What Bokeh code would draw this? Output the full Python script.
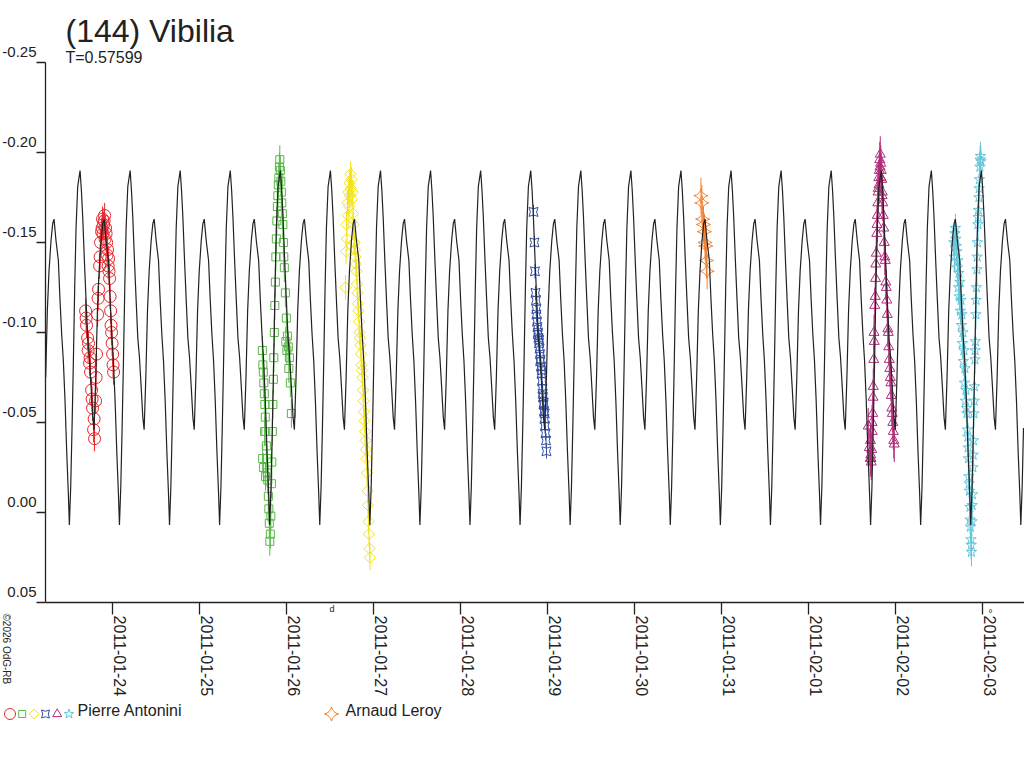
import math
import pandas as pd
from bokeh.plotting import figure
from bokeh.models import Range1d, FixedTicker, LinearAxis, Label
from bokeh.embed import file_html
from bokeh.resources import INLINE

# ---------------- data ----------------
TITLE = "(144) Vibilia"
SUBTITLE = "T=0.57599"
PERIOD = 0.57599          # days
BASE = "2011-01-24"       # day 0 of the time values below
EPOCH = 3.2405            # time (days after BASE) of a secondary minimum of the model

# one period of the model light curve
CURVE_PHASE = [0.0, 0.0333, 0.0667, 0.1, 0.14, 0.1733, 0.2, 0.24, 0.2867, 0.32,
               0.3533, 0.3867, 0.42, 0.4533, 0.4867, 0.5067, 0.5333, 0.56, 0.5867,
               0.6133, 0.64, 0.6733, 0.72, 0.7467, 0.7733, 0.8067, 0.84, 0.8733,
               0.9067, 0.94, 0.9733]
CURVE_MAG = [-0.046, -0.075, -0.112, -0.134, -0.151, -0.1605, -0.163, -0.151, -0.140,
             -0.118, -0.099, -0.084, -0.062, -0.034, -0.010, 0.007, -0.014, -0.047,
             -0.084, -0.125, -0.158, -0.181, -0.190, -0.179, -0.164, -0.140, -0.118,
             -0.097, -0.086, -0.070, -0.053]

XTICK_LABELS = ["2011-01-24", "2011-01-25", "2011-01-26", "2011-01-27", "2011-01-28",
                "2011-01-29", "2011-01-30", "2011-01-31", "2011-02-01", "2011-02-02",
                "2011-02-03"]
YTICKS = [-0.25, -0.20, -0.15, -0.10, -0.05, 0.00, 0.05]
YTICK_LABELS = ["-0.25", "-0.20", "-0.15", "-0.10", "-0.05", "0.00", "0.05"]
X_START, X_END = -0.7735, 10.487   # days after BASE covered by the axis
Y_TOP, Y_BOTTOM = -0.25, 0.05

OBSERVERS = ["Pierre Antonini", "Arnaud Leroy"]
COPYRIGHT = "©2026 OdG-RB"

# session 1 (Pierre Antonini, red circles)
red_t = [-0.313, -0.307, -0.302, -0.290, -0.284, -0.279, -0.267, -0.261, -0.256, -0.244,
         -0.238, -0.233, -0.221, -0.215, -0.210, -0.198, -0.192, -0.187, -0.175, -0.169,
         -0.164, -0.152, -0.146, -0.141, -0.129, -0.123, -0.118, -0.112, -0.106, -0.100,
         -0.094, -0.089, -0.083, -0.077, -0.071, -0.066, -0.060, -0.054, -0.048, -0.043,
         -0.037, -0.031, -0.025, -0.020, -0.014, -0.008, -0.002, 0.003, 0.009]
red_m = [-0.112, -0.108, -0.104, -0.097, -0.090, -0.094, -0.083, -0.086, -0.078, -0.068,
         -0.063, -0.058, -0.046, -0.052, -0.041, -0.062, -0.075, -0.088, -0.110, -0.119,
         -0.124, -0.137, -0.142, -0.150, -0.156, -0.158, -0.163, -0.155, -0.160, -0.162,
         -0.165, -0.152, -0.158, -0.155, -0.150, -0.143, -0.146, -0.137, -0.141, -0.134,
         -0.130, -0.120, -0.112, -0.104, -0.100, -0.094, -0.088, -0.082, -0.078]
red_err = 0.007

# session 2 (Pierre Antonini, green squares)
green_t = [1.720, 1.726, 1.731, 1.737, 1.743, 1.749, 1.754, 1.760, 1.766, 1.772,
           1.777, 1.783, 1.789, 1.795, 1.800, 1.806, 1.812, 1.818, 1.824, 1.829,
           1.835, 1.841, 1.847, 1.852, 1.858, 1.864, 1.870, 1.875, 1.881, 1.887,
           1.893, 1.898, 1.904, 1.910, 1.916, 1.921, 1.927, 1.933, 1.939, 1.944,
           1.950, 1.956, 1.962, 1.967, 1.973, 1.985, 1.996, 2.008, 2.019, 2.031,
           2.042, 2.054, 1.724, 1.735, 1.746, 1.757, 1.990, 2.002, 2.025]
green_m = [-0.090, -0.082, -0.078, -0.072, -0.066, -0.060, -0.053, -0.045, -0.037, -0.030,
           -0.022, -0.018, -0.009, -0.002, 0.006, 0.016, 0.012, 0.002, -0.016, -0.028,
           -0.045, -0.060, -0.074, -0.086, -0.100, -0.115, -0.128, -0.142, -0.152, -0.162,
           -0.170, -0.176, -0.182, -0.186, -0.192, -0.196, -0.190, -0.184, -0.178, -0.172,
           -0.166, -0.160, -0.150, -0.142, -0.136, -0.122, -0.108, -0.098, -0.092, -0.086,
           -0.072, -0.055, -0.030, -0.025, -0.045, -0.020, -0.095, -0.090, -0.080]
green_err = 0.008

# session 3 (Pierre Antonini, yellow diamonds)
yellow_t = [2.677, 2.683, 2.688, 2.694, 2.700, 2.705, 2.711, 2.717, 2.723, 2.728,
            2.734, 2.740, 2.746, 2.751, 2.757, 2.763, 2.769, 2.774, 2.780, 2.786,
            2.792, 2.797, 2.803, 2.809, 2.815, 2.820, 2.826, 2.832, 2.838, 2.843,
            2.849, 2.855, 2.861, 2.866, 2.872, 2.878, 2.884, 2.889, 2.895, 2.901,
            2.907, 2.912, 2.918, 2.924, 2.930, 2.935, 2.941, 2.947, 2.953, 2.958]
yellow_m = [-0.125, -0.145, -0.160, -0.152, -0.172, -0.165, -0.178, -0.170, -0.183, -0.176,
            -0.188, -0.180, -0.185, -0.174, -0.178, -0.166, -0.160, -0.150, -0.150, -0.146,
            -0.142, -0.138, -0.134, -0.127, -0.122, -0.116, -0.112, -0.106, -0.100, -0.097,
            -0.093, -0.088, -0.082, -0.079, -0.075, -0.068, -0.062, -0.056, -0.051, -0.045,
            -0.040, -0.035, -0.030, -0.022, -0.012, -0.004, 0.005, 0.012, 0.020, 0.025]
yellow_err = 0.007

# session 4 (Pierre Antonini, blue pins)
blue_t = [4.839, 4.850, 4.856, 4.862, 4.868, 4.873, 4.879, 4.885, 4.891, 4.896,
          4.902, 4.908, 4.914, 4.919, 4.925, 4.931, 4.937, 4.942, 4.948, 4.954,
          4.960, 4.965, 4.971, 4.977, 4.983, 4.988, 4.871, 4.888, 4.905, 4.916,
          4.934, 4.945, 4.957, 4.968]
blue_m = [-0.167, -0.150, -0.134, -0.122, -0.118, -0.110, -0.106, -0.103, -0.100, -0.097,
          -0.094, -0.091, -0.088, -0.085, -0.081, -0.077, -0.073, -0.069, -0.064, -0.060,
          -0.056, -0.052, -0.048, -0.044, -0.040, -0.034, -0.113, -0.099, -0.096, -0.084,
          -0.079, -0.066, -0.061, -0.055]
blue_err = 0.004

# session 5 (Pierre Antonini, magenta triangles)
magenta_t = [8.6893, 8.7008, 8.7124, 8.7182, 8.7240, 8.7297, 8.7355, 8.7412, 8.7470, 8.7527,
             8.7585, 8.7642, 8.7700, 8.7758, 8.7815, 8.7873, 8.7930, 8.7988, 8.8046, 8.8103,
             8.8161, 8.8218, 8.8276, 8.8334, 8.8391, 8.8449, 8.8506, 8.8564, 8.8622, 8.8737,
             8.8852, 8.8967, 8.9082, 8.9198, 8.9313, 8.9428, 8.9543, 8.9658, 8.9774, 8.9889,
             8.7150, 8.7210, 8.7330, 8.7440, 8.7560, 8.7730, 8.7900, 8.8020, 8.8130, 8.8250,
             8.8360, 8.8480, 8.8680, 8.8800, 8.8910, 8.9030, 8.9140, 8.9250, 8.9370, 8.9490,
             8.9600, 8.9720, 8.9830]
magenta_m = [-0.048, -0.036, -0.030, -0.032, -0.028, -0.035, -0.045, -0.055, -0.070, -0.085,
             -0.095, -0.115, -0.120, -0.138, -0.144, -0.155, -0.165, -0.172, -0.180, -0.186,
             -0.190, -0.196, -0.199, -0.194, -0.190, -0.185, -0.178, -0.172, -0.165, -0.150,
             -0.140, -0.125, -0.110, -0.100, -0.085, -0.075, -0.065, -0.055, -0.045, -0.038,
             -0.040, -0.030, -0.050, -0.064, -0.100, -0.130, -0.160, -0.178, -0.182, -0.192,
             -0.186, -0.176, -0.158, -0.142, -0.128, -0.118, -0.102, -0.092, -0.080, -0.072,
             -0.058, -0.050, -0.040]
magenta_err = 0.010

# session 6 (Pierre Antonini, cyan stars)
cyan_t = [9.6743, 9.6858, 9.6974, 9.7089, 9.7204, 9.7319, 9.7434, 9.7550, 9.7665, 9.7780,
          9.7895, 9.8010, 9.8126, 9.8241, 9.8356, 9.8414, 9.8471, 9.8529, 9.8586, 9.8644,
          9.8702, 9.8759, 9.8817, 9.8874, 9.8932, 9.8990, 9.9047, 9.9105, 9.9162, 9.9220,
          9.9278, 9.9335, 9.9393, 9.9450, 9.9508, 9.9566, 9.9623, 9.9681, 9.9738, 9.9796,
          9.9854, 9.6800, 9.6920, 9.7030, 9.7150, 9.7260, 9.7380, 9.7500, 9.7610, 9.7720,
          9.7840, 9.7950, 9.8070, 9.8180, 9.8300, 9.8380, 9.8500, 9.8610, 9.8730, 9.8840,
          9.8960, 9.9080, 9.9190, 9.9300, 9.9420, 9.9540, 9.9650, 9.9770]
cyan_m = [-0.150, -0.155, -0.152, -0.145, -0.140, -0.133, -0.128, -0.118, -0.110, -0.100,
          -0.090, -0.080, -0.068, -0.055, -0.042, -0.030, -0.020, -0.012, -0.003, 0.008,
          0.015, 0.022, 0.005, -0.010, -0.025, -0.040, -0.055, -0.070, -0.085, -0.095,
          -0.110, -0.125, -0.135, -0.150, -0.160, -0.168, -0.175, -0.185, -0.192, -0.198,
          -0.195, -0.142, -0.158, -0.148, -0.136, -0.125, -0.120, -0.112, -0.104, -0.094,
          -0.084, -0.072, -0.062, -0.058, -0.046, -0.036, -0.016, 0.004, 0.018, -0.004,
          -0.032, -0.062, -0.090, -0.118, -0.142, -0.164, -0.180, -0.196]
cyan_err = 0.008

# session 7 (Arnaud Leroy, orange four-point stars)
orange_t = [6.765, 6.775, 6.785, 6.795, 6.805, 6.812, 6.820, 6.828, 6.836]
orange_m = [-0.176, -0.172, -0.163, -0.160, -0.156, -0.150, -0.148, -0.140, -0.134]
orange_err = 0.010

# ---------------- layout (pixels) ----------------
W, H = 1024, 760
PX_PER_DAY = 86.94
X0_PX = 112.3        # page x of BASE
PX_PER_MAG = 1800.0
Y0_PX = 512.0        # page y of magnitude 0

base = pd.Timestamp(BASE)


def day_to_ms(d):
    return (base + pd.Timedelta(days=float(d))).value / 1e6


def days_to_ms(ds):
    return [day_to_ms(d) for d in ds]


def px_to_day(px):
    return (px - X0_PX) / PX_PER_DAY


def py_to_mag(py):
    return (py - Y0_PX) / PX_PER_MAG


DARK = "#222222"
FONT = "Liberation Sans"
RED, GREEN, YELLOW, BLUE = "#e8262c", "#58b947", "#f2e41c", "#3350a6"
MAGENTA, CYAN, ORANGE = "#b02d7a", "#62c7da", "#f08232"

# marker styles: (marker, size, angle)
STYLES = {
    "red": ("circle", 12, 0.0),
    "green": ("square", 8, 0.0),
    "yellow": ("square", 8, math.pi / 4),
    "blue": ("square_pin", 9, 0.0),
    "magenta": ("triangle", 10, 0.0),
    "cyan": ("star", 11, 0.0),
    "orange": ("square_pin", 10, math.pi / 4),
}

# ---------------- figure: frame spans the whole canvas ----------------
xs0, xs1 = day_to_ms(px_to_day(0)), day_to_ms(px_to_day(W))
ys0, ys1 = py_to_mag(H), py_to_mag(0)
p = figure(width=W, height=H, output_backend="svg", toolbar_location=None,
           x_axis_type=None, y_axis_type=None,
           x_range=Range1d(xs0, xs1), y_range=Range1d(ys0, ys1),
           min_border_left=0, min_border_right=0, min_border_top=0,
           min_border_bottom=0)
p.outline_line_color = None
p.background_fill_color = "white"
p.border_fill_color = "white"

# label ranges shifted by a few pixels so that labels sit like in the reference
sx_ms = day_to_ms(7.5 / PX_PER_DAY) - day_to_ms(0)
dy = 11.0 / PX_PER_MAG
p.extra_x_ranges = {"xlab": Range1d(xs0 - sx_ms, xs1 - sx_ms)}
p.extra_y_ranges = {"ylab": Range1d(ys0 + dy, ys1 + dy)}

x_start_ms, x_end_ms = day_to_ms(X_START), day_to_ms(X_END)
xt = [day_to_ms((pd.Timestamp(s) - base).total_seconds() / 86400.0) for s in XTICK_LABELS]


def style_axis(ax):
    ax.minor_tick_out = 0
    ax.minor_tick_in = 0
    ax.minor_tick_line_color = None
    ax.major_tick_in = 0


# y axis: line + ticks
yax = LinearAxis(ticker=FixedTicker(ticks=YTICKS), fixed_location=x_start_ms,
                 bounds=(Y_TOP, Y_BOTTOM))
style_axis(yax)
yax.axis_line_color = DARK
yax.axis_line_width = 1.3
yax.major_tick_line_color = DARK
yax.major_tick_line_width = 1.3
yax.major_tick_out = 9
yax.major_label_text_font_size = "1px"
yax.major_label_text_color = None
p.add_layout(yax, "left")

# y axis: labels
yl = LinearAxis(y_range_name="ylab", ticker=FixedTicker(ticks=YTICKS),
                fixed_location=x_start_ms,
                major_label_overrides={v: s for v, s in zip(YTICKS, YTICK_LABELS)})
style_axis(yl)
yl.axis_line_color = None
yl.major_tick_line_color = None
yl.major_tick_out = 9
yl.major_label_standoff = 0
yl.major_label_text_font = FONT
yl.major_label_text_font_size = "15px"
yl.major_label_text_color = DARK
p.add_layout(yl, "left")

# x axis: line + ticks
xax = LinearAxis(ticker=FixedTicker(ticks=xt), fixed_location=Y_BOTTOM,
                 bounds=(x_start_ms, x_end_ms))
style_axis(xax)
xax.axis_line_color = DARK
xax.axis_line_width = 1.3
xax.major_tick_line_color = DARK
xax.major_tick_line_width = 1.3
xax.major_tick_out = 12
xax.major_label_text_font_size = "1px"
xax.major_label_text_color = None
p.add_layout(xax, "below")

# x axis: rotated date labels
xl = LinearAxis(x_range_name="xlab", ticker=FixedTicker(ticks=xt),
                fixed_location=Y_BOTTOM,
                major_label_overrides={v: s for v, s in zip(xt, XTICK_LABELS)})
style_axis(xl)
xl.axis_line_color = None
xl.major_tick_line_color = None
xl.major_tick_out = 12
xl.major_label_standoff = 1
xl.major_label_orientation = -math.pi / 2
xl.major_label_text_font = FONT
xl.major_label_text_font_size = "16px"
xl.major_label_text_color = DARK
p.add_layout(xl, "below")

# ---------------- data marks ----------------
sessions = [
    ("red", red_t, red_m, red_err, RED),
    ("green", green_t, green_m, green_err, GREEN),
    ("yellow", yellow_t, yellow_m, yellow_err, YELLOW),
    ("blue", blue_t, blue_m, blue_err, BLUE),
    ("orange", orange_t, orange_m, orange_err, ORANGE),
    ("magenta", magenta_t, magenta_m, magenta_err, MAGENTA),
    ("cyan", cyan_t, cyan_m, cyan_err, CYAN),
]
for key, t, m, e, col in sessions:
    xs = days_to_ms(t)
    p.segment(x0=xs, y0=[v - e for v in m], x1=xs, y1=[v + e for v in m],
              line_color=col, line_width=1)
    mk, sz, ang = STYLES[key]
    p.scatter(x=xs, y=m, marker=mk, size=sz, angle=ang, fill_color=None,
              line_color=col, line_width=1)

# model curve tiled over the axis span
curve_d, curve_m = [], []
for k in range(-8, 15):
    for ph, mg in zip(CURVE_PHASE, CURVE_MAG):
        d = EPOCH + (k + ph) * PERIOD
        if X_START <= d <= X_END:
            curve_d.append(d)
            curve_m.append(mg)
p.line(x=days_to_ms(curve_d), y=curve_m, line_color=DARK, line_width=1.2)


# ---------------- texts (page pixels; baseline given, corrected for Label offset) ------
def put(text, px, py, size, angle=0.0, align="left"):
    lift = 0.37 * size
    p.add_layout(Label(x=px, y=H - (py - lift), x_units="screen", y_units="screen",
                       text=text, angle=angle, text_align=align,
                       text_baseline="alphabetic", text_font=FONT,
                       text_font_size="%dpx" % size, text_color=DARK))


put(TITLE, 65, 42, 32)
put(SUBTITLE, 65, 63, 16)
put("d", 329, 612, 9)
put("°", 988, 617, 10)
# rotated copyright (anchor given directly in screen units)
p.add_layout(Label(x=5.5, y=H - 613, x_units="screen", y_units="screen", text=COPYRIGHT,
                   angle=-math.pi / 2, text_align="left", text_baseline="alphabetic",
                   text_font=FONT, text_font_size="10px", text_color=DARK))

# ---------------- legend ----------------
legend_keys = [("red", RED, 9.5), ("green", GREEN, 21.7), ("yellow", YELLOW, 33.5),
               ("blue", BLUE, 45.0), ("magenta", MAGENTA, 56.7), ("cyan", CYAN, 68.5),
               ("orange", ORANGE, 331.0)]
LEG_Y = 713.5
for key, col, px in legend_keys:
    mk, sz, ang = STYLES[key]
    p.scatter(x=[day_to_ms(px_to_day(px))], y=[py_to_mag(LEG_Y)], marker=mk,
              size=sz - (1 if key != "orange" else 0), angle=ang, fill_color=None,
              line_color=col, line_width=1)
put(OBSERVERS[0], 77, 716, 16)
put(OBSERVERS[1], 345, 716, 16)

open("out.html", "w").write(file_html(p, INLINE))
